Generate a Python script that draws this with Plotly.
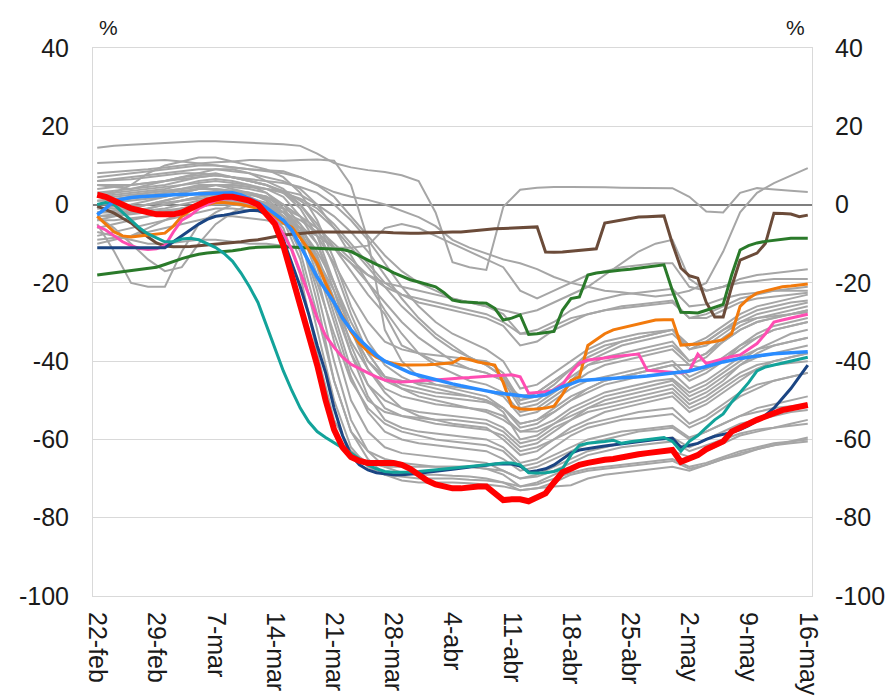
import pandas as pd
import plotly.graph_objects as go

# ---------------- categories ----------------
dates = pd.date_range("2020-02-22", "2020-05-16", freq="D")   # 85 daily categories
grid2 = dates[::2]                                             # every second day (43 points)
tick_labels = ["22-feb", "29-feb", "7-mar", "14-mar", "21-mar", "28-mar", "4-abr",
               "11-abr", "18-abr", "25-abr", "2-may", "9-may", "16-may"]
y_ticks = [-100, -80, -60, -40, -20, 0, 20, 40]
y_tick_text = ["-100", "-80", "-60", "-40", "-20", "0", "20", "40"]

# ---------------- highlighted series (daily) ----------------
red = [2.5, 2, 1, 0, -1, -1.5, -2, -2.5, -2.5, -2.5,
       -2, -1, 0, 1, 1.5, 2, 2, 1.5, 1, 0,
       -2.5, -5, -10.5, -18, -25, -32.5, -41, -50, -57.5, -62,
       -64.5, -65.5, -66, -66, -66, -66, -66.5, -67.5, -69, -70.5,
       -71.5, -72, -72.5, -72.5, -72.2, -72, -72, -74, -75.5, -75.3,
       -75.3, -75.8, -75, -73.8, -71, -68.4, -67.5, -66.5, -66, -65.5,
       -65.2, -65, -64.5, -64.2, -63.8, -63.5, -63.2, -63, -62.7, -65.7,
       -64.8, -64, -62.5, -61.5, -60.5, -58, -56.8, -56, -55, -54,
       -53.3, -52.5, -52, -51.7, -51.2]
blue = [-2.6, -1, 1, 1.5, 1.8, 2, 2.2, 2.3, 2.4, 2.5,
        2.6, 2.7, 2.8, 2.9, 3, 3, 3, 2.5, 1.5, 0.5,
        -0.8, -2.5, -4, -6.5, -10.5, -14.5, -18.5, -21.8, -25, -29,
        -32, -34.5, -36.5, -38.5, -40, -41, -42.2, -43, -43.6, -44.2,
        -44.8, -45.3, -45.8, -46.3, -46.8, -47.2, -47.6, -48, -48.3, -48.7,
        -49, -49.1, -48.9, -48.6, -47.5, -46.5, -45.8, -45, -44.8, -44.7,
        -44.6, -44.5, -44.4, -44.3, -44, -43.8, -43.6, -43.3, -43, -42.8,
        -42.5, -42, -41.5, -40.8, -40.2, -39.7, -39.3, -39, -38.7, -38.3,
        -38.1, -38, -37.9, -37.7, -37.6]
teal = [0, 0.5, 0, -2, -4, -6, -7.5, -8.5, -9.5, -9.5,
        -8.8, -8.6, -9, -10, -11, -12.5, -14.5, -17.5, -21, -25,
        -31, -37, -42.5, -47.5, -52, -55.5, -58, -59.5, -60.8, -62,
        -63.5, -65, -66.5, -67.5, -68.2, -68.4, -68.4, -68.3, -68.2, -68,
        -67.8, -67.6, -67.4, -67.2, -67, -66.7, -66.5, -66.3, -66, -66,
        -66.5, -68.5, -68.6, -68.5, -68.2, -67.5, -64, -61.5, -61, -60.8,
        -60.5, -60.2, -61, -60.6, -60.3, -60, -59.8, -59.5, -60.5, -63,
        -60.5, -59, -57, -55, -53.5, -50.5, -48, -45.5, -42.5, -41.5,
        -41, -40.5, -40, -39.5, -39]
navy = [-11, -11, -11, -11, -11, -11, -11, -11, -11, -9.5,
        -8, -6.5, -5, -3.8, -3, -2.7, -2.3, -2, -1.5, -1.5,
        -2.5, -5, -9, -15, -21, -28, -36, -43, -52, -59,
        -64, -66.5, -67.8, -68.5, -68.8, -69, -69, -68.9, -68.7, -68.4,
        -68.2, -67.9, -67.6, -67.3, -67, -66.8, -66.6, -66.3, -66.2, -66.3,
        -66.8, -68.3, -68, -67.5, -66.5, -65, -63.5, -62.7, -62.3, -62,
        -61.7, -61.4, -61.1, -60.8, -60.5, -60.2, -60, -59.8, -59.7, -62,
        -61.5, -61, -60, -59.2, -58.7, -58.2, -57.5, -56.5, -55.2, -53.8,
        -52, -49.5, -47, -44, -41]
pink = [-5.5, -6.5, -8, -9.5, -10.5, -11.2, -11.5, -11.3, -10.5, -7,
        -4, -2.8, -1, 0, 1, 1.5, 1.5, 1.2, 0.5, -0.5,
        -2, -4, -7.5, -11.5, -17, -23, -29, -33.5, -36.5, -39,
        -40.8, -42, -43, -44, -44.8, -45.2, -45.3, -45.2, -45, -44.9,
        -44.8, -44.6, -44.5, -44.3, -44.2, -44, -43.8, -43.7, -43.6, -43.5,
        -44, -48.2, -48, -47.8, -47.4, -46, -43, -40.5, -39.7, -39.5,
        -39.2, -38.9, -38.6, -38.4, -38.2, -42.3, -42.5, -42.7, -42.9, -43,
        -42.5, -38.2, -40.6, -40, -39.3, -38.8, -38.4, -37, -35.5, -33,
        -30, -29.5, -29, -28.5, -28]
orange = [-3, -5, -7, -8, -8.3, -8, -7.8, -7.5, -7.3, -5.5,
          -3, -1.5, -0.5, 0, 0.5, 0.5, 0.3, 0, -0.5, -1,
          -2, -3, -4.7, -5.8, -8.5, -11.5, -15, -20, -25, -28.5,
          -32.5, -35.5, -37.5, -39, -40, -40.6, -41, -41, -41, -40.9,
          -40.8, -40.6, -40.4, -39.2, -39.6, -40.2, -40.6, -41, -45.5, -51.5,
          -52.2, -52.3, -52.2, -52, -51.5, -48.5, -45, -44, -36, -34.5,
          -33, -32, -31.5, -31, -30.5, -30, -29.5, -29.4, -29.4, -35.9,
          -35.8, -35.6, -35.3, -35, -34.5, -33, -26, -24, -22.6, -22,
          -21.5, -21, -20.8, -20.5, -20.3]
green = [-18, -17.7, -17.4, -17.1, -16.8, -16.5, -16.2, -16, -15.3, -14.5,
         -13.8, -13.2, -12.7, -12.4, -12.2, -12.1, -11.8, -11.5, -11.1, -10.9,
         -10.8, -10.8, -10.8, -10.9, -11, -11.1, -11.2, -11.3, -11.4, -11.5,
         -12, -13, -14.2, -15.3, -16.2, -17.4, -18.4, -19.2, -19.8, -20.4,
         -21, -22.5, -24.4, -24.8, -25, -25.1, -25.2, -26.5, -29.5, -29,
         -28.2, -33.2, -33, -32.7, -32.4, -27, -24, -23.6, -18, -17.5,
         -17.2, -17, -16.7, -16.5, -16.2, -16, -15.7, -15.4, -22, -27.5,
         -27.6, -27.7, -27, -26.2, -25.5, -18, -11.6, -10.5, -9.8, -9.4,
         -9.1, -8.8, -8.6, -8.6, -8.6]
brown = [-0.4, -1.3, -2.2, -3.5, -4.7, -6.5, -8.3, -9.8, -10.6, -10.8,
         -10.8, -10.7, -10.5, -10.3, -10.1, -10, -9.8, -9.5, -9.2, -9,
         -8.6, -8.2, -7.8, -7.6, -7.4, -7.3, -7, -7, -7, -7,
         -7, -7, -7, -7, -7.1, -7.2, -7.3, -7.3, -7.3, -7.2,
         -7.1, -7, -7, -7, -6.8, -6.5, -6.3, -6.2, -6.1, -6,
         -6, -5.8, -5.7, -12.1, -12.2, -12.1, -11.9, -11.7, -11.5, -11.3,
         -4.7, -4.3, -3.9, -3.6, -3.2, -3.1, -3, -2.9, -10, -16.2,
         -18.2, -18.8, -25, -28.7, -28.7, -21, -14.2, -13.2, -12.4, -9.9,
         -2.2, -2.3, -2.4, -3.1, -2.7]

# ---------------- background (grey) series, every second day ----------------
g01 = [14.5, 15, 15.3, 15.5, 15.8, 16, 16.2, 16.2, 16, 15.8,
       15.6, 15.4, 15, 13, 10.6, 9.5, 8.8, 8.3,
       7.5, 6, -2, -14.7, -16, -16.7, -0.6, 3.8, 4.3, 4.5,
       4.5, 4.5, 4.4, 4.3, 4.3, 4.2, 4.2, 2, -1.8, -2, 3, 4.2, 3.8, 3.5, 3.2]
g02 = [10.6, 10.8, 11, 11.2, 11.4, 11, 10.5, 10, 9.5, 9,
       8.8, 8.5, 7, 5, 3.2, 2, 1.2, 0,
       -1.5, -3.2, -5.5, -9, -11, -12.4, -14, -15, -16.5, -18.5,
       -20, -21, -22, -22.4, -23, -23.5, -23, -22, -20, -12, -2, 3, 5.5, 7.5, 9.3]
g03 = [8, 8.3, 8.6, 9, 9.5, 10, 10.5, 10.8, 11, 11.4,
       11.3, 11.2, 11.4, 11.5, 11.2, 5, -9, -32,
       -40, -44, -46, -47, -48, -49, -52, -56, -55, -53,
       -50, -47, -45, -44, -43, -42, -41, -41, -42, -40, -37, -34, -32, -31, -30]
g04 = [6, 6.2, 6.5, 7, 7.5, 8, 8, 7.5, 7, 6,
       5, 3.5, 1, -2, -6, -11, -16, -21,
       -26, -30, -34, -37, -39, -41, -44, -50, -49, -46,
       -42, -38, -36, -35, -34, -33, -32, -37, -36, -33, -30, -28, -27, -26, -25]
g05 = [5, 4.5, 4, 5, 6, 7, 8, 9, 9, 8,
       6, 4, 0, -5, -11, -17, -23, -28,
       -36, -38, -40, -41, -42, -43, -45, -52, -51, -48,
       -45, -41, -39, -38, -37, -36, -35, -40, -38, -35, -32, -30, -29, -28, -27]
g06 = [-5, -12, -20, -21, -21, -12, -5, -2, 0, 1,
       0, -3, -8, -15, -25, -35, -42, -48,
       -52, -54, -55, -56, -56.5, -57, -60, -64, -63, -60,
       -58, -56, -55, -54, -53, -52.5, -52, -56, -54, -51, -48, -46, -45, -44, -43]
g07 = [-3, -6, -10, -14, -17, -16, -10, -5, -2, 0,
       -1, -3, -6, -12, -20, -30, -38, -44,
       -47, -49, -50, -51, -52, -53, -55, -58, -58, -56,
       -54, -52, -51, -50, -49, -48, -47, -51, -49, -46, -43, -41, -40, -39, -38]
g08 = [0, 1, 2, 3, 3.5, 4, 4.5, 5, 4, 3,
       1, -3, -12, -28, -45, -58, -65, -69,
       -70.5, -71, -71, -71, -71.2, -71.5, -72, -73, -72.5, -72,
       -71.7, -70, -69, -68.5, -68, -67.5, -67, -68, -66.5, -65, -64, -62.5, -61.5, -60.5, -59.5]
g09 = [2, 2.5, 3, 3.5, 4, 5, 6, 6.5, 6, 5,
       3, -1, -8, -22, -40, -55, -63, -67,
       -68.5, -69, -69, -69.3, -69.5, -70, -71, -72, -71, -69,
       -67, -66, -65, -64.5, -64, -63.5, -63, -64.5, -63, -61, -59, -58, -57, -56.5, -56]
g10 = [-1, -0.5, 0, 1, 2, 3, 4, 4, 3.5, 3,
       2, -1, -6, -18, -35, -50, -58, -62,
       -63.5, -64, -64.5, -65, -65.5, -66, -68, -70, -69, -67,
       -65, -63, -62, -61, -60.5, -60, -59.5, -62, -60, -58, -56, -55, -54, -53, -52.5]
g11 = [-2, -1.5, -1, 0, 1, 2, 3, 3.5, 3, 2.5,
       1.5, -2, -7, -16, -30, -44, -53, -58,
       -60, -61, -61.5, -62, -62.5, -63, -65, -68, -67, -65,
       -63, -61, -60, -59, -58, -57.5, -57, -60, -58, -56, -54, -52, -51, -50, -49]
g12 = [-4, -3, -2, -1, 0, 1, 2, 2.5, 2, 1.5,
       0.5, -2, -6, -13, -24, -38, -49, -55,
       -57, -58, -58.5, -59, -59.5, -60, -62, -66, -65, -62,
       -59, -57, -56, -55, -54.5, -54, -53.5, -57, -55, -52, -49, -47, -45, -44, -43]
g13 = [3, 3, 3.5, 4, 4.5, 5, 5.5, 6, 5.5, 5,
       4, 2, -3, -10, -22, -36, -46, -52,
       -54, -55, -56, -56.5, -57, -57.5, -59, -63, -62, -60,
       -57, -55, -53, -52, -51, -50, -49, -53, -51, -48, -45, -42, -40, -39, -38]
g14 = [1, 1, 1.5, 2, 3, 4, 5, 5, 4.5, 4,
       3, 0, -5, -14, -28, -42, -50, -53,
       -54, -54.5, -55, -55, -55.5, -56, -58, -62, -61, -58,
       -55, -52, -50, -49, -48, -47, -46, -50, -48, -45, -41, -38, -36, -35, -34]
g15 = [-6, -5, -4, -3, -2, -1, 0, 1, 1, 0.5,
       0, -2, -5, -10, -20, -32, -42, -47,
       -49, -50, -51, -51.5, -52, -52.5, -54, -58, -57, -55,
       -52, -50, -48, -47, -46, -45, -44.5, -48, -46, -43, -40, -37, -35, -33, -32]
g16 = [4, 4.5, 5, 5.5, 6, 7, 7.5, 8, 7, 6,
       5, 3, 0, -6, -16, -28, -38, -44,
       -46, -47, -48, -48.5, -49, -50, -52, -56, -55, -52,
       -49, -47, -45, -44, -43, -42, -41, -45, -43, -40, -36, -33, -31, -30, -29]
g17 = [-8, -7, -6, -5, -4, -3, -2, -1, -1, -1.5,
       -2, -4, -8, -14, -22, -32, -40, -44,
       -45, -45.5, -46, -46.5, -47, -47.5, -49, -54, -53, -50,
       -47, -45, -44, -43, -42, -41, -40, -44, -42, -39, -36, -34, -32, -31, -30]
g18 = [2, 2, 2.5, 3, 3.5, 4, 4.5, 5, 5, 4.5,
       4, 3.5, 2.5, 0, -3, -7, -12, -18,
       -24, -29, -33, -36, -39, -41, -44, -51, -50, -47,
       -44, -41, -40, -39, -38, -37, -36, -40, -38, -34, -31, -29, -28, -27, -26]
g19 = [-2, -2, -1.5, -1, 0, 1, 2, 3, 3, 2.5,
       2, 0, -3, -8, -15, -23, -30, -35,
       -37, -38, -38.5, -39, -39.5, -40, -43, -50, -48, -45,
       -42, -39, -37, -35, -34, -33, -32, -36, -34, -31, -28, -26, -25, -24, -23]
g20 = [-7, -8, -9, -10, -10, -9.5, -9, -9, -9.5, -10,
       -10, -10.5, -11, -11, -11, -11, -10.5, -6,
       -5, -6, -8, -10, -12, -14, -16, -22, -24, -22,
       -20, -18, -17, -16, -15.5, -15, -15, -21, -22, -21, -20, -19.5, -19, -19, -19]
g21 = [0, 0.5, 1, 1.5, 2, 3, 4, 5, 5, 4.5,
       4, 3, 1.5, -1, -5, -10, -15, -20,
       -23, -25, -26, -27, -28, -29, -31, -36, -35, -32,
       -30, -28, -27, -26, -25.5, -25, -24.5, -29, -28, -26, -24, -23, -22, -21.5, -21]
g22 = [3, 3.5, 4, 4.5, 5, 6, 7, 7.5, 7, 6.5,
       6, 5.5, 4.5, 3, 0, -4, -9, -15,
       -21, -26, -30, -33, -35, -37, -40, -47, -46, -43,
       -40, -37, -35, -34, -33, -32.5, -32, -36, -35, -32, -30, -29, -28.5, -28, -27.5]
g23 = [-1, -1, -0.5, 0, 0.5, 1, 1.5, 2, 1.5, 1,
       0, -1, -3, -6, -10, -14, -18, -21,
       -23, -24, -25, -26, -27, -28, -30, -33, -33, -31,
       -29, -28, -27, -26.5, -26, -25.5, -25, -29, -29, -27, -25, -24, -23.5, -23, -22.5]
g24 = [-3, -2.5, -2, -1.5, -1, 0, 1, 2, 2, 1,
       -1, -6, -18, -38, -55, -63, -66, -67,
       -67, -67, -67, -67, -67, -67.5, -68, -70, -69.5, -68,
       -66, -64, -63, -62, -61.5, -61, -60.5, -63, -61.5, -60, -58.5, -57.5, -57, -56, -55]
g25 = [6, 6.5, 7, 7.5, 8, 8.5, 9, 9, 8.5, 8,
       7, 6, 4, 0, -6, -13, -20, -27,
       -33, -38, -41, -43, -45, -46, -48, -53, -52, -49,
       -46, -43, -41, -40, -39, -38, -37, -41, -39, -35, -32, -30, -29, -28, -27]
g26 = [-10, -9, -8, -6, -4, -2, 0, 1, 0.5, 0,
       -1, -4, -10, -20, -33, -45, -52, -56,
       -58, -59, -60, -60.5, -61, -61.5, -63, -67, -66, -64,
       -62, -60, -59, -58, -57.5, -57, -56.5, -59.5, -58, -56, -54, -53, -52, -51.5, -51]
g27 = [5, 5, 5, 5.5, 6, 6.5, 7, 7.5, 7, 6,
       5, 3, -1, -8, -20, -32, -40, -45,
       -47, -48, -49, -49.5, -50, -50.5, -52, -57, -56, -53,
       -50, -48, -46, -45, -44, -43.5, -43, -47, -45, -42, -39, -37, -36, -35, -34]
g28 = [-9, -8.5, -8, -7, -6, -5, -4, -3, -3, -3.5,
       -4, -5, -6, -8, -11, -15, -20, -25,
       -30, -34, -37, -40, -42, -43, -45, -49, -48, -45,
       -42, -40, -38, -36, -35, -34, -33, -37, -35, -32, -29, -27, -26, -25, -24.5]
g29 = [1, 1.5, 2, 2.5, 3, 3.5, 4, 4, 3.5, 3,
       2, -1, -8, -25, -45, -58, -63, -65,
       -66, -66.5, -67, -67, -67, -67.5, -69, -72, -71.5, -70,
       -68.5, -67.5, -67, -66.5, -66, -65.5, -65, -67, -66, -64.5, -63, -62, -61, -60.5, -60]
g30 = [7, 7.5, 8, 8.5, 9, 9.5, 10, 10, 9.5, 9,
       8.5, 8, 7, 5, 2, -3, -8, -13,
       -17, -20, -22, -24, -25, -26, -27, -28, -27, -25,
       -23, -21, -18, -15, -12, -10, -9, -19, -22, -21, -19, -18, -17.5, -17, -16.5]
g31 = [-4, -4, -3.5, -3, -2, -1, 0, 0.5, 0.5, 0,
       -1, -3, -7, -14, -26, -38, -46, -50,
       -52, -53, -53.5, -54, -54.5, -55, -57, -61, -60, -57,
       -55, -53, -52, -51, -50, -49, -48, -52, -50, -47, -44, -42, -41, -40.5, -40]
g32 = [2, 3, 5, 8, 10, 11, 12, 12, 11, 10,
       9, 7, 3, -4, -14, -26, -35, -41,
       -44, -46, -47, -48, -49, -50, -53, -60, -59, -56,
       -53, -51, -49, -48, -47, -46, -45, -49, -47, -44, -41, -39, -38, -37, -36]
g33 = [-3, -3, -2.5, -2, -1.5, -1, -0.5, 0, 0, -0.5,
       -1, -2, -4, -7, -11, -15, -18, -20,
       -21, -22, -23, -24, -25, -26, -28, -33, -32, -30,
       -27, -25, -24, -23, -22.5, -22, -21.5, -26, -25.5, -24, -23, -22.5, -22, -22, -22]
g34 = [-2, -1.5, -1, 0, 1, 2, 3, 3, 2.5, 2,
       0, -4, -14, -32, -50, -62, -67, -69,
       -69.5, -70, -70, -70, -70.3, -70.5, -71, -73, -72.5, -71,
       -69, -68, -67.5, -67, -66.5, -66, -65.5, -67.5, -66.5, -65, -63.5, -62.5, -61.5, -61, -60.5]

grey_series = [g01, g02, g03, g04, g05, g06, g07, g08, g09, g10, g11, g12,
               g13, g14, g15, g16, g17, g18, g19, g20, g21, g22, g23, g24,
               g25, g26, g27, g28, g29, g30, g31, g32, g33, g34]

# ---------------- figure ----------------
FONT = "Liberation Sans, Arial, Helvetica, sans-serif"
TXT = "#1a1a1a"
GRID = "#d9d9d9"

fig = go.Figure()

for g in grey_series:
    fig.add_trace(go.Scatter(x=grid2, y=g, mode="lines",
                             line=dict(color="#a6a6a6", width=2),
                             showlegend=False, hoverinfo="skip"))

highlight = [
    (brown, "#6b4b39", 3),
    (green, "#2a7a2a", 3),
    (orange, "#f27a0c", 3),
    (pink, "#ff4db2", 3),
    (navy, "#1b4583", 3),
    (teal, "#12a39a", 3),
    (blue, "#2a8cff", 3.5),
    (red, "#ff0000", 6),
]
for vals, col, w in highlight:
    fig.add_trace(go.Scatter(x=dates, y=vals, mode="lines",
                             line=dict(color=col, width=w),
                             showlegend=False, hoverinfo="skip"))

# invisible trace so the right-hand axis is drawn
fig.add_trace(go.Scatter(x=dates, y=red, yaxis="y2", mode="lines",
                         line=dict(width=0), opacity=0,
                         showlegend=False, hoverinfo="skip"))

x0 = dates[0] - pd.Timedelta(hours=12)
x1 = dates[-1] + pd.Timedelta(hours=12)

fig.update_layout(
    width=893, height=699,
    margin=dict(l=93, r=81, t=48, b=103, autoexpand=False),
    paper_bgcolor="white", plot_bgcolor="white",
    font=dict(family=FONT, size=25, color=TXT),
    xaxis=dict(type="date", range=[x0, x1],
               tickvals=list(dates[::7]), ticktext=tick_labels,
               tickangle=90, showgrid=False, zeroline=False,
               showline=True, mirror=True, linecolor=GRID, linewidth=1,
               ticks="outside", ticklen=10, tickcolor="rgba(0,0,0,0)",
               tickfont=dict(family=FONT, size=25, color=TXT)),
    yaxis=dict(range=[-100, 40], tickvals=y_ticks, ticktext=y_tick_text,
               showgrid=True, gridcolor=GRID, gridwidth=1,
               zeroline=True, zerolinecolor="#7f7f7f", zerolinewidth=1.5,
               showline=True, mirror=True, linecolor=GRID, linewidth=1,
               ticks="outside", ticklen=18, tickcolor="rgba(0,0,0,0)",
               tickfont=dict(family=FONT, size=25, color=TXT)),
    yaxis2=dict(range=[-100, 40], tickvals=y_ticks, ticktext=y_tick_text,
                overlaying="y", side="right",
                showgrid=False, zeroline=False, showline=False,
                ticks="outside", ticklen=17, tickcolor="rgba(0,0,0,0)",
                tickfont=dict(family=FONT, size=25, color=TXT)),
    annotations=[
        dict(text="%", xref="paper", yref="paper", x=(108 - 93) / 719, y=1 + (48 - 27) / 548,
             xanchor="center", yanchor="middle", showarrow=False,
             font=dict(family=FONT, size=21, color=TXT)),
        dict(text="%", xref="paper", yref="paper", x=(795 - 93) / 719, y=1 + (48 - 27) / 548,
             xanchor="center", yanchor="middle", showarrow=False,
             font=dict(family=FONT, size=21, color=TXT)),
    ],
)

fig.write_html("out.html", config={"displayModeBar": False},
               post_script="document.body.style.margin='0px';")
